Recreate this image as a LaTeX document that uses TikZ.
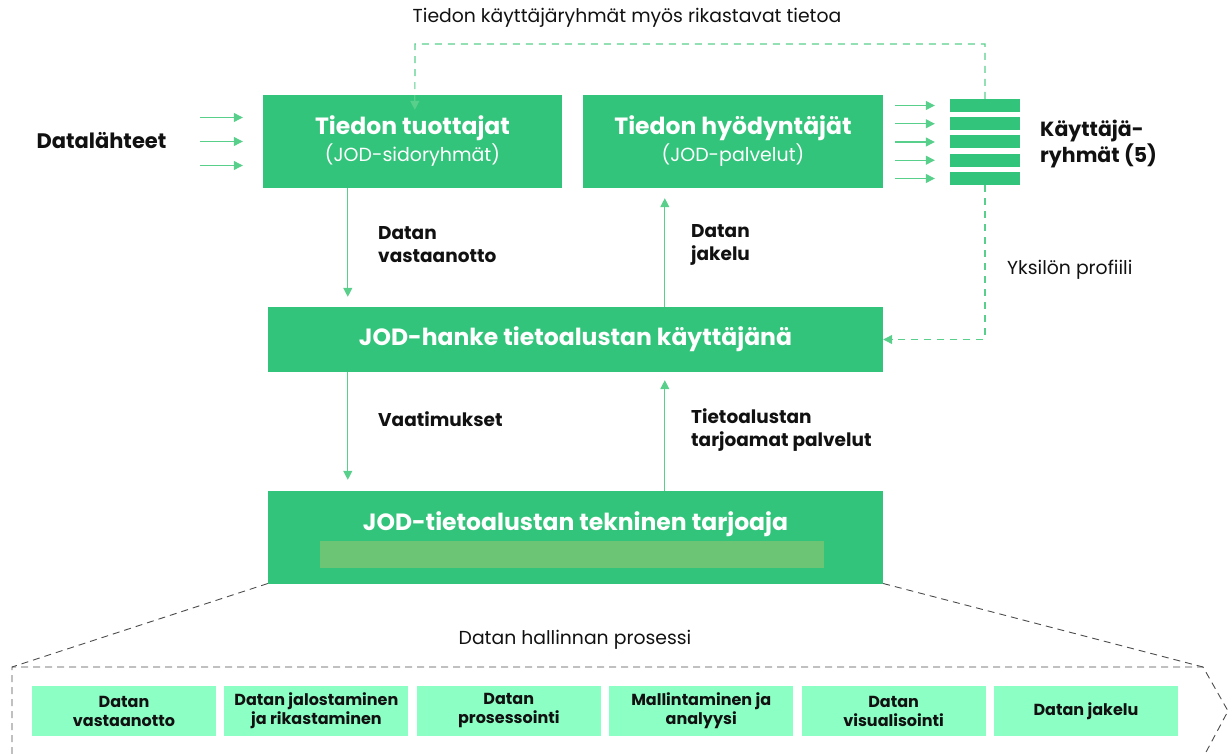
\documentclass[tikz,border=0pt]{standalone}
\usepackage{fontspec}
\setmainfont{Poppins}
\usetikzlibrary{arrows.meta}
\definecolor{jodgreen}{RGB}{51,196,123}
\definecolor{flowgreen}{RGB}{88,208,140}
\definecolor{mint}{RGB}{140,255,197}
\definecolor{bargreen}{RGB}{107,197,117}
\definecolor{ink}{RGB}{17,17,17}
\newcommand{\fs}[1]{\fontsize{#1}{#1}\selectfont}
\begin{document}
\begin{tikzpicture}[x=1pt,y=-1pt,
	box/.style={fill=jodgreen, text=white, align=center, inner sep=0pt},
	flow/.style={draw=flowgreen, line width=1.2pt, -{Triangle[length=9pt,width=9pt]}},
	dashflow/.style={draw=flowgreen, line width=1.2pt, dash pattern=on 7pt off 6pt, -{Triangle[length=9pt,width=9pt]}},
	lbl/.style={text=ink, font=\bfseries\fontsize{18.5}{23}\selectfont, align=left, anchor=west, inner sep=0pt},
	stepbox/.style={fill=mint, text=ink, font=\bfseries\fontsize{16}{19}\selectfont, align=center, minimum width=184pt, minimum height=50pt, inner sep=0pt},
	outline/.style={draw=black!70, line width=0.9pt, dash pattern=on 7pt off 5pt}]
	\useasboundingbox (0,0) rectangle (1231,754);
	
	% upper boxes
	\node[box, minimum width=299pt, minimum height=93pt] (tuottajat) at (412.5,141.5)
	{{\bfseries\fs{23.5}Tiedon tuottajat}\\[2pt]{\fs{19}(JOD-sidoryhmät)}};
	\node[box, minimum width=300pt, minimum height=93pt] (hyodyntajat) at (733,141.5)
	{{\bfseries\fs{23.5}Tiedon hyödyntäjät}\\[2pt]{\fs{19}(JOD-palvelut)}};
	\node[box, minimum width=615pt, minimum height=65pt, font=\bfseries\fs{23.5}] (hanke) at (575.5,339.5)
	{JOD-hanke tietoalustan käyttäjänä};
	\node[box, minimum width=615pt, minimum height=93pt] (tarjoaja) at (575.5,537.5) {};
	\fill[bargreen] (320,541) rectangle (824,568);
	\node[text=white, font=\bfseries\fs{23.5}, inner sep=0pt] (tarjoajateksti) at (575.5,524.5)
	{JOD-tietoalustan tekninen tarjoaja};
	
	% sources and user groups
	\node[text=ink, font=\bfseries\fs{21}, inner sep=0pt] (lahteet) at (101.5,141) {Datalähteet};
	\foreach \y in {24,0,-24}
		\draw[flow] ([xshift=-63pt,yshift=\y pt]tuottajat.west) -- ([xshift=-20pt,yshift=\y pt]tuottajat.west);
	\foreach \i in {1,...,5}{
		\node[fill=jodgreen, minimum width=70pt, minimum height=13pt, inner sep=0pt] (bar\i) at (985,87.25+18.25*\i) {};
		\draw[flow] ([xshift=-55pt]bar\i.west) -- ([xshift=-15pt]bar\i.west);
	}
	\node[lbl, font=\bfseries\fontsize{20.5}{26}\selectfont] (ryhmat) at (1040,144.5) {Käyttäjä-\\ryhmät (5)};
	
	% feedback
	\draw[dashflow] (bar1.north) |- (415,44) -- ([xshift=152pt,yshift=-15pt]tuottajat.north west);
	\node[text=ink, font=\fs{18.8}, inner sep=0pt] (rikastavat) at (627,18) {Tiedon käyttäjäryhmät myös rikastavat tietoa};
	\draw[dashflow] (bar5.south) |- (hanke.east);
	\node[lbl, font=\fs{18.8}] (profiili) at (1007,270) {Yksilön profiili};
	
	% flows between boxes
	\draw[flow] ([xshift=85pt]tuottajat.south west) -- ([xshift=80pt,yshift=10pt]hanke.north west);
	\draw[flow] ([xshift=397pt]hanke.north west) -- ([xshift=82pt,yshift=-10pt]hyodyntajat.south west);
	\draw[flow] ([xshift=80pt]hanke.south west) -- ([xshift=80pt,yshift=11pt]tarjoaja.north west);
	\draw[flow] ([xshift=397pt]tarjoaja.north west) -- ([xshift=397pt,yshift=-8pt]hanke.south west);
	\node[lbl] (vastaanotto) at (378,244.5) {Datan\\vastaanotto};
	\node[lbl] (jakelu) at (691,244.5) {Datan\\jakelu};
	\node[lbl] (vaatimukset) at (378,419) {Vaatimukset};
	\node[lbl] (palvelut) at (691,430.5) {Tietoalustan\\tarjoamat palvelut};
	
	% process
	\draw[outline] ([yshift=-46pt]tarjoaja.west) -- (12,667);
	\draw[outline] ([yshift=-46pt]tarjoaja.east) -- (1203,667);
	\draw[outline] (12,754) -- (12,667) -- (1203,667) -- (1228,711) -- (1205,754);
	\node[text=ink, font=\fs{18.8}, inner sep=0pt] (prosessi) at (575,640) {Datan hallinnan prosessi};
	\foreach \t [count=\i] in {{Datan\\vastaanotto},{Datan jalostaminen\\ja rikastaminen},{Datan\\prosessointi},{Mallintaminen ja\\analyysi},{Datan\\visualisointi},{Datan jakelu}}
		\node[stepbox] (vaihe\i) at (124+192.4*\i-192.4,711) {\t};
\end{tikzpicture}
\end{document}
